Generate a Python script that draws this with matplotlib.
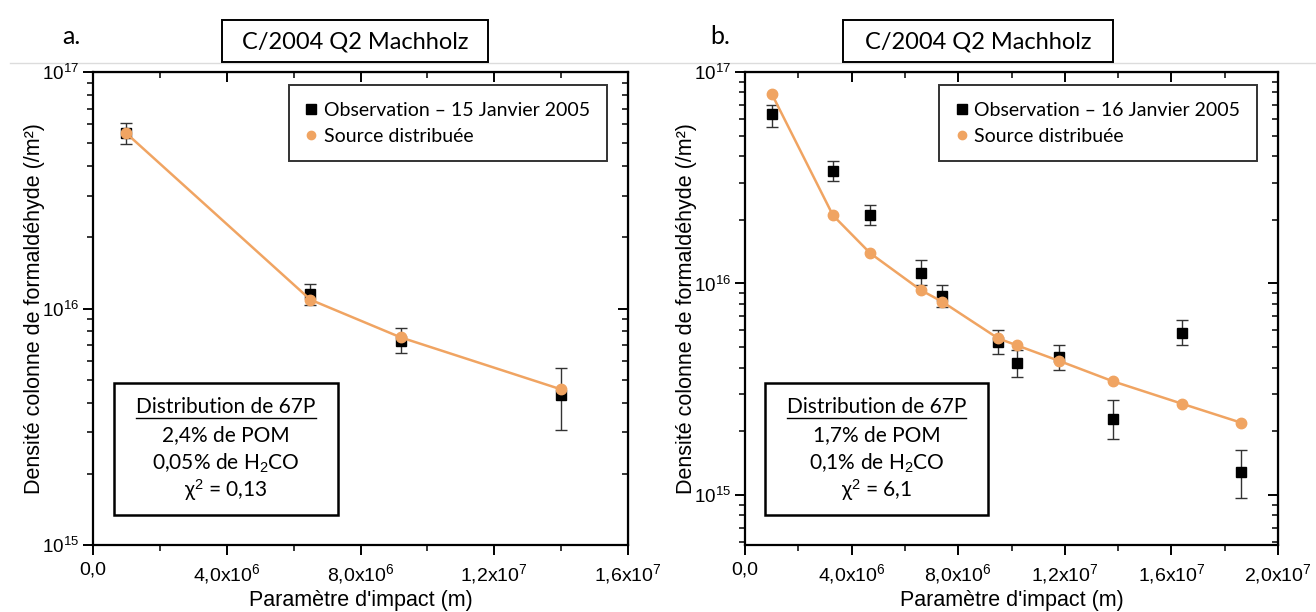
import matplotlib
matplotlib.use('Agg')
import matplotlib.pyplot as plt
from matplotlib.patches import Rectangle
from matplotlib.lines import Line2D
from matplotlib.ticker import MultipleLocator, LogLocator, NullFormatter

W, H = 1316, 612

# ---------------- data ----------------
title = "C/2004 Q2 Machholz"

left_x = [1.0e6, 6.5e6, 9.2e6, 1.4e7]
left_obs = [5.5e16, 1.15e16, 7.3e15, 4.3e15]
left_obs_hi = [6.1e16, 1.27e16, 8.3e15, 5.6e15]
left_obs_lo = [4.95e16, 1.03e16, 6.5e15, 3.05e15]
left_model = [5.5e16, 1.09e16, 7.55e15, 4.55e15]

right_x = [1.0e6, 3.3e6, 4.7e6, 6.6e6, 7.4e6, 9.5e6, 1.02e7, 1.18e7, 1.38e7, 1.64e7, 1.86e7]
right_obs = [6.3e16, 3.4e16, 2.1e16, 1.12e16, 8.7e15, 5.3e15, 4.2e15, 4.5e15, 2.28e15, 5.85e15, 1.29e15]
right_obs_hi = [7.0e16, 3.8e16, 2.35e16, 1.29e16, 9.8e15, 6.0e15, 4.85e15, 5.1e15, 2.8e15, 6.7e15, 1.64e15]
right_obs_lo = [5.5e16, 3.05e16, 1.9e16, 9.8e15, 7.7e15, 4.65e15, 3.6e15, 3.9e15, 1.83e15, 5.1e15, 0.97e15]
right_model = [7.9e16, 2.1e16, 1.39e16, 9.3e15, 8.2e15, 5.5e15, 5.1e15, 4.3e15, 3.45e15, 2.7e15, 2.2e15]

xticks_left = [0, 4e6, 8e6, 1.2e7, 1.6e7]
xlabels_left = ["0,0", "4,0x10$^6$", "8,0x10$^6$", "1,2x10$^7$", "1,6x10$^7$"]
xticks_right = [0, 4e6, 8e6, 1.2e7, 1.6e7, 2.0e7]
xlabels_right = ["0,0", "4,0x10$^6$", "8,0x10$^6$", "1,2x10$^7$", "1,6x10$^7$", "2,0x10$^7$"]
yticks = [1e15, 1e16, 1e17]
ylabels = ["10$^{15}$", "10$^{16}$", "10$^{17}$"]

legend_obs = ["Observation \u2013 15 Janvier 2005", "Observation \u2013 16 Janvier 2005"]
legend_model = "Source distribu\u00e9e"
box_lines_left = ["Distribution de 67P", "2,4% de POM", "0,05% de H$_2$CO", "\u03c7$^2$ = 0,13"]
box_lines_right = ["Distribution de 67P", "1,7% de POM", "0,1% de H$_2$CO", "\u03c7$^2$ = 6,1"]
xlabel = "Param\u00e8tre d'impact (m)"
ylabel = "Densit\u00e9 colonne de formald\u00e9hyde (/m\u00b2)"

# ---------------- style ----------------
plt.rcParams['mathtext.fontset'] = 'custom'
plt.rcParams['mathtext.rm'] = 'Liberation Sans'
plt.rcParams['mathtext.it'] = 'Liberation Sans:italic'
plt.rcParams['mathtext.fallback'] = 'cm'
ORANGE = '#F0A462'
AXFONT = 'Liberation Sans'
BOXFONT = ['Lato', 'DejaVu Serif']

fig = plt.figure(figsize=(W / 100, H / 100), dpi=100)


def fx(px):
    return px / W


def fy(py):
    return 1 - py / H


def make_axes(x0, x1, y0, y1):
    return fig.add_axes([fx(x0), fy(y1), fx(x1) - fx(x0), fy(y0) - fy(y1)])


def style_axes(ax, xticks, xlabels, xmax, ymin):
    ax.set_yscale('log')
    ax.set_xlim(0, xmax)
    ax.set_ylim(ymin, 1e17)
    ax.set_xticks(xticks, xlabels, fontfamily=AXFONT, fontsize=14)
    ax.set_yticks(yticks, ylabels, fontfamily=AXFONT, fontsize=13.5)
    ax.xaxis.set_minor_locator(MultipleLocator(2e6))
    ax.yaxis.set_minor_locator(LogLocator(base=10, subs=range(2, 10)))
    ax.yaxis.set_minor_formatter(NullFormatter())
    ax.tick_params(which='major', direction='out', length=7, width=1.4, pad=5)
    ax.tick_params(which='minor', direction='out', length=4, width=1.1)
    ax.tick_params(axis='y', which='major', pad=3)
    for s in ax.spines.values():
        s.set_linewidth(1.6)
    top = ax.secondary_xaxis('top')
    top.set_xticks(xticks, [''] * len(xticks))
    top.xaxis.set_minor_locator(MultipleLocator(2e6))
    top.tick_params(which='major', direction='in', length=7, width=1.4)
    top.tick_params(which='minor', direction='in', length=4, width=1.1)
    right = ax.secondary_yaxis('right')
    right.set_yticks(yticks, [''] * len(yticks))
    right.yaxis.set_minor_locator(LogLocator(base=10, subs=range(2, 10)))
    right.yaxis.set_minor_formatter(NullFormatter())
    right.tick_params(which='major', direction='in', length=7, width=1.4)
    right.tick_params(which='minor', direction='in', length=4, width=1.1)
    ax.set_xlabel(xlabel, fontfamily=AXFONT, fontsize=15.5, labelpad=3)
    ax.set_ylabel(ylabel, fontfamily=AXFONT, fontsize=15.5, labelpad=-2)


def plot_data(ax, x, obs, lo, hi, model):
    yerr = [[o - l for o, l in zip(obs, lo)], [h - o for o, h in zip(obs, hi)]]
    ax.errorbar(x, obs, yerr=yerr, fmt='s', color='black', ms=7, ecolor='#333333',
                elinewidth=1.0, capsize=4, capthick=1.0, zorder=3)
    ax.plot(x, model, '-o', color=ORANGE, lw=1.8, ms=7.5, zorder=4)


def legend(ax, label_obs):
    h1 = Line2D([], [], marker='s', color='black', ls='none', ms=7.5)
    h2 = Line2D([], [], marker='o', color=ORANGE, ls='none', ms=6)
    lg = ax.legend([h1, h2], [label_obs, legend_model], loc='upper right',
                   bbox_to_anchor=(0.96, 0.972), frameon=True, fancybox=False,
                   edgecolor='black', handlelength=0.6, handletextpad=0.35,
                   borderpad=0.85, labelspacing=0.45, borderaxespad=0,
                   prop={'family': BOXFONT, 'size': 14})
    lg.get_frame().set_linewidth(1.4)
    lg.set_zorder(6)


def title_box(x0, x1, y0, y1, text):
    fig.add_artist(Rectangle((fx(x0), fy(y1)), fx(x1) - fx(x0), fy(y0) - fy(y1),
                             transform=fig.transFigure, facecolor='white',
                             edgecolor='black', lw=1.4, zorder=5))
    fig.text(fx((x0 + x1) / 2), fy((y0 + y1) / 2 + 1), text, ha='center', va='center',
             fontfamily=BOXFONT, fontsize=17, zorder=6)


underline_jobs = []


def text_box(x0, x1, y0, y1, lines, line_y):
    fig.add_artist(Rectangle((fx(x0), fy(y1)), fx(x1) - fx(x0), fy(y0) - fy(y1),
                             transform=fig.transFigure, facecolor='white',
                             edgecolor='black', lw=1.8, zorder=5))
    cx = (x0 + x1) / 2
    texts = []
    for t, yy in zip(lines, line_y):
        texts.append(fig.text(fx(cx), fy(yy), t, ha='center', va='center',
                              fontfamily=BOXFONT, fontsize=15, zorder=6))
    underline_jobs.append((texts[0], line_y[0] + 11))


# gray separator line
fig.add_artist(Line2D([fx(10), 1], [fy(63)] * 2, transform=fig.transFigure,
                      color='#dcdcdc', lw=1.0, zorder=0))

# ---------------- left panel ----------------
axL = make_axes(93, 628, 72, 545)
style_axes(axL, xticks_left, xlabels_left, 1.6e7, 1e15)
plot_data(axL, left_x, left_obs, left_obs_lo, left_obs_hi, left_model)
legend(axL, legend_obs[0])

# ---------------- right panel ----------------
axR = make_axes(745, 1278, 72, 545)
style_axes(axR, xticks_right, xlabels_right, 2.0e7, 5.8e14)
plot_data(axR, right_x, right_obs, right_obs_lo, right_obs_hi, right_model)
legend(axR, legend_obs[1])

fig.text(fx(62), fy(36), "a.", fontfamily=BOXFONT, fontsize=18, va='center')
fig.text(fx(710), fy(36), "b.", fontfamily=BOXFONT, fontsize=18, va='center')
title_box(222, 488, 20, 62, title)
title_box(843, 1113, 20, 62, title)

line_y = [407, 435, 463, 490]
text_box(114, 338, 383, 515, box_lines_left, line_y)
text_box(765, 988, 383, 515, box_lines_right, line_y)

fig.canvas.draw()
r = fig.canvas.get_renderer()
for t, yy in underline_jobs:
    bb = t.get_window_extent(r)
    fig.add_artist(Line2D([bb.x0 / W, bb.x1 / W], [fy(yy)] * 2,
                          transform=fig.transFigure, color='black', lw=1.0, zorder=6))

fig.savefig('out.png', dpi=100)
